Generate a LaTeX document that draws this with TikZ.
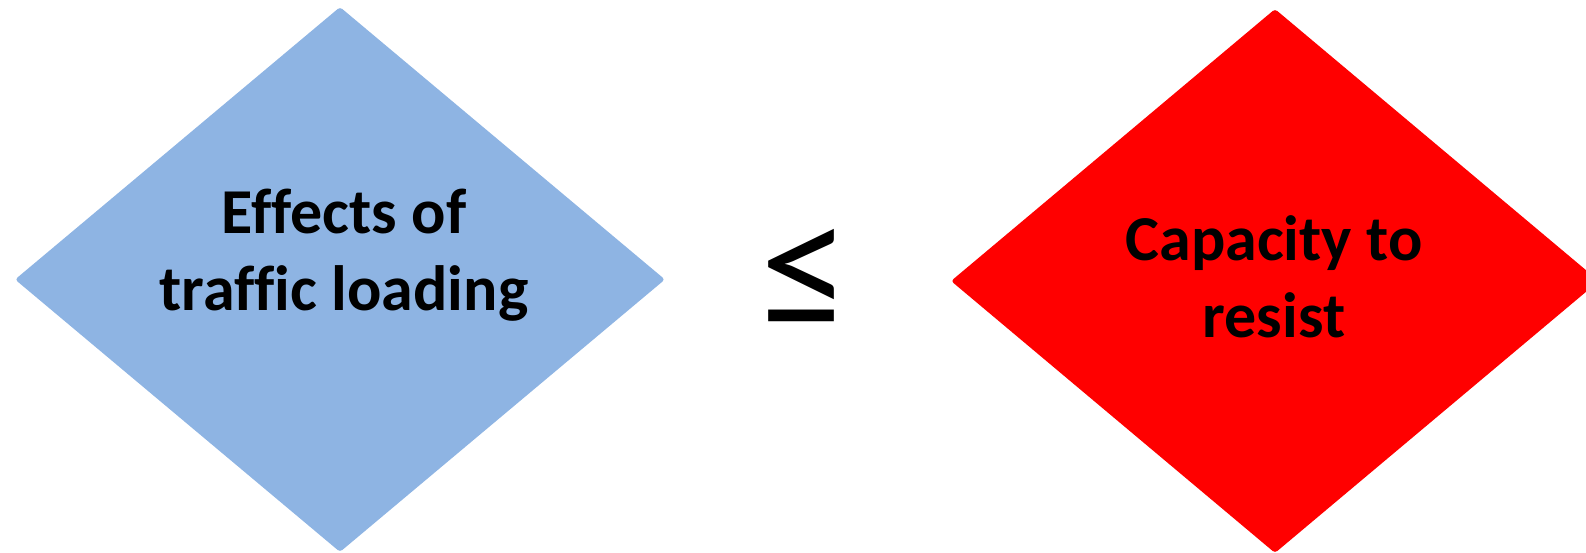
\documentclass[tikz,border=0pt]{standalone}
\usepackage{fontspec}
\setmainfont{Carlito}[Ligatures={NoCommon}]
\usepackage{tikz}
\usetikzlibrary{shapes.geometric,positioning}
\definecolor{loadblue}{RGB}{142,180,227}
\definecolor{resistred}{RGB}{255,0,0}
\tikzset{
    % rhombus boxes
    rhombus/.style={
        diamond,
        inner sep=0pt,
        minimum width=650pt,
        minimum height=545pt,
        rounded corners=3pt
    },
    boxtext/.style={
        align=center,
        font=\fontsize{64}{77}\selectfont\bfseries,
        black
    }
}

\begin{document}
\begin{tikzpicture}[x=1pt,y=-1pt]
    \useasboundingbox (0,0) rectangle (1586,553);
    \clip (0,0) rectangle (1586,553);

    % ===================== left box =====================
    \node[rhombus,fill=loadblue] (effects) at (340,279.5) {};
    \node[boxtext,anchor=base] (effectstext) at (344,310) {Effects of\\traffic loading};

    % ===================== sign =====================
    \node[font=\fontsize{180}{210}\selectfont,black] (leq) at (805,278.5) {≤};

    % ===================== right box =====================
    \node[rhombus,fill=resistred,minimum width=648pt,minimum height=544pt] (capacity) at (1275,281) {};
    \node[boxtext,anchor=base] (capacitytext) at (1274,337) {Capacity to\\resist};

\end{tikzpicture}
\end{document}
